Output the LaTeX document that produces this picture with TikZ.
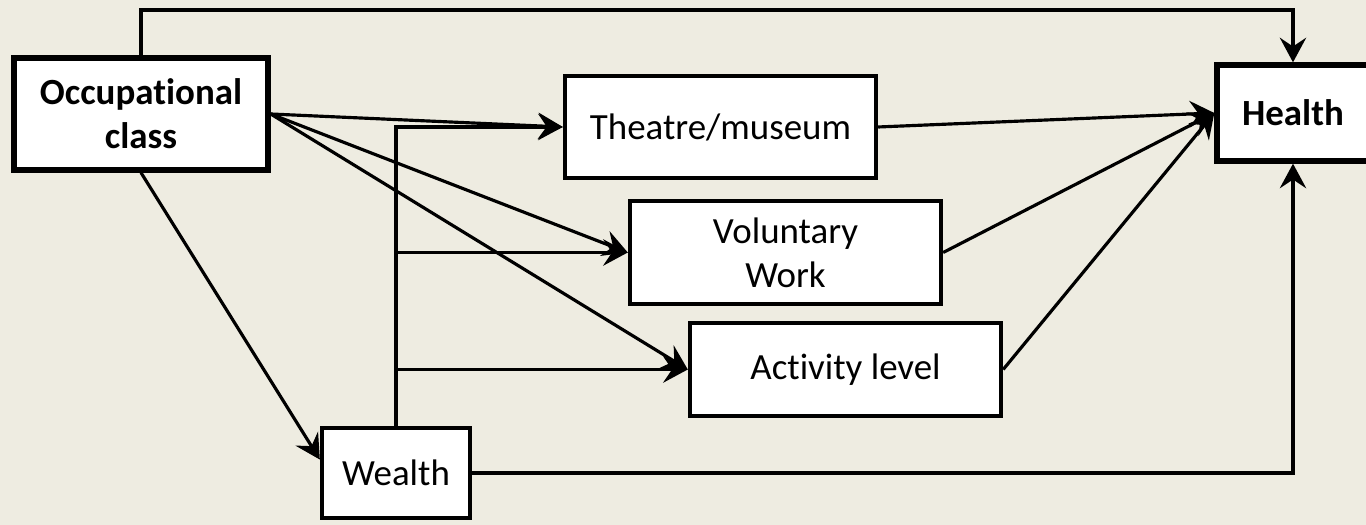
\documentclass[tikz,border=0pt]{standalone}
\usepackage{fontspec}
\setmainfont{Carlito}[Ligatures=NoCommon]
\usepackage{tikz}
\usetikzlibrary{arrows.meta}
\definecolor{bgtan}{HTML}{EEECE1}
\tikzstyle{state}=[draw, fill=white, align=center, line width=1.2pt, inner sep=0pt]
\tikzstyle{key}=[state, line width=1.5pt, font=\fontsize{10.5}{12.6}\selectfont\bfseries]

\begin{document}
\begin{tikzpicture}[x=0.01cm,y=-0.01cm,>={Stealth[length=7pt,width=7.5pt,inset=2.5pt]},line width=0.9pt,font=\fontsize{10.5}{12.6}\selectfont]
        \fill[bgtan] (0,0) rectangle (1366,525);
        \useasboundingbox (0,0) rectangle (1366,525);
        \coordinate (t) at (0,10);
        \node [key] (oc) at (141,114) [minimum width=2.54cm,minimum height=1.12cm] {Occupational\\class};
        \node [key] (he) at (1293,113) [minimum width=1.52cm,minimum height=0.96cm] {Health};
        \node [state] (th) at (720.5,127) [minimum width=3.11cm,minimum height=1.02cm] {Theatre/museum};
        \node [state] (vw) at (785.5,252.5) [minimum width=3.11cm,minimum height=1.03cm] {Voluntary\\Work};
        \node [state] (al) at (845.5,369.5) [minimum width=3.11cm,minimum height=0.93cm] {Activity level};
        \node [state] (we) at (396,473) [minimum width=1.48cm,minimum height=0.90cm] {Wealth};
        \draw[->] (oc.north) -- (oc.north |- t) -| (he.north);
        \path[->]
        (oc.east) edge (th.west)
        (oc.east) edge (vw.west)
        (oc.east) edge (al.west)
        (oc.south) edge (we.170)
        (th.east) edge (he.west)
        (vw.east) edge (he.west)
        (al.east) edge (he.west);
        \draw[->] (we.north) |- (th.west);
        \draw[->] (we.north |- vw.west) -- (vw.west);
        \draw[->] (we.north |- al.west) -- (al.west);
        \draw[->] (we.east) -| (he.south);
    \end{tikzpicture}
\end{document}
